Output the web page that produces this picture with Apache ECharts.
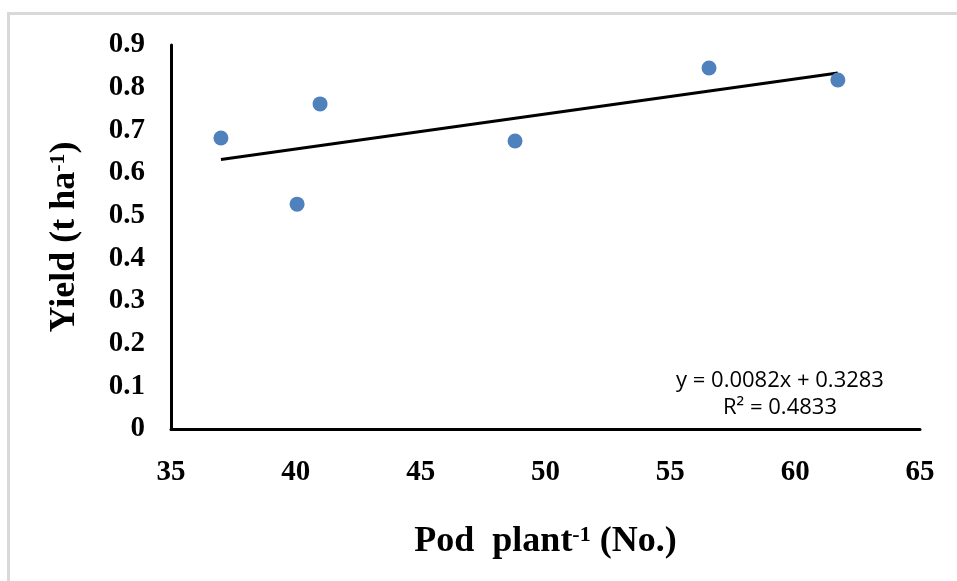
<!DOCTYPE html>
<html>
<head>
<meta charset="utf-8">
<script src="https://cdn.jsdelivr.net/npm/echarts@6/dist/echarts.min.js"></script>
<style>
  html, body { margin: 0; padding: 0; background: #fff; }
  #main { width: 957px; height: 581px; }
</style>
</head>
<body>
<div id="main"></div>
<script>
// 数据
var podPlant = [37.0, 40.05, 40.97, 48.78, 56.55, 61.71];
var yieldVal = [0.682, 0.527, 0.762, 0.675, 0.846, 0.818];
var slope = 0.0082;
var intercept = 0.3283;
var rSquared = '0.4833';

var points = podPlant.map(function (x, i) { return [x, yieldVal[i]]; });
var xMin = Math.min.apply(null, podPlant);
var xMax = Math.max.apply(null, podPlant);
var trend = [[xMin, slope * xMin + intercept], [xMax, slope * xMax + intercept]];

var serif = '"Liberation Serif", "Times New Roman", serif';
var titleRich = {
    b: { fontFamily: serif, fontWeight: 'bold', fontSize: 36, color: '#000' },
    s: { fontFamily: serif, fontWeight: 'bold', fontSize: 22, color: '#000', verticalAlign: 'top', padding: [0, 0, 14, 0] }
};

var myChart = echarts.init(document.getElementById('main'));

var option = {
    animation: false,
    backgroundColor: '#fff',
    grid: { left: 171, right: 37, top: 45, bottom: 152 },
    graphic: [
        {
            type: 'polyline',
            shape: { points: [[8.5, 600], [8.5, 13.5], [970, 13.5]] },
            style: { stroke: '#d9d9d9', lineWidth: 3, fill: null }
        },
        {
            type: 'text', x: 780, y: 370,
            style: {
                text: 'y = 0.0082x + 0.3283',
                font: '22px "Open Sans", "Liberation Sans", sans-serif',
                fill: '#000', align: 'center', verticalAlign: 'top'
            }
        },
        {
            type: 'text', x: 780, y: 397,
            style: {
                text: 'R² = ' + rSquared,
                font: '22px "Open Sans", "Liberation Sans", sans-serif',
                fill: '#000', align: 'center', verticalAlign: 'top'
            }
        }
    ],
    xAxis: {
        type: 'value',
        min: 35, max: 65, interval: 5,
        splitLine: { show: false },
        axisTick: { show: false },
        axisLine: { onZero: false, lineStyle: { color: '#000', width: 3 } },
        axisLabel: { color: '#000', fontFamily: serif, fontWeight: 'bold', fontSize: 29, margin: 29 },
        name: '{b|Pod  plant}{s|-1}{b| (No.)}',
        nameLocation: 'middle',
        nameGap: 95,
        nameTextStyle: { rich: titleRich }
    },
    yAxis: {
        type: 'value',
        min: 0, max: 0.9, interval: 0.1,
        splitLine: { show: false },
        axisTick: { show: false },
        axisLine: { lineStyle: { color: '#000', width: 3 } },
        axisLabel: {
            color: '#000', fontFamily: serif, fontWeight: 'bold', fontSize: 29, margin: 26,
            formatter: function (v) { return v === 0 ? '0' : v.toFixed(1); }
        },
        name: '{b|Yield (t ha}{s|-1}{b|)}',
        nameLocation: 'middle',
        nameGap: 88,
        nameTextStyle: { rich: titleRich }
    },
    series: [
        {
            type: 'line',
            data: trend,
            symbol: 'none',
            lineStyle: { color: '#000', width: 3 },
            z: 2
        },
        {
            type: 'scatter',
            data: points,
            symbolSize: 15,
            itemStyle: { color: '#4f81bd', opacity: 1 },
            z: 3
        }
    ]
};

myChart.setOption(option);
</script>
</body>
</html>
